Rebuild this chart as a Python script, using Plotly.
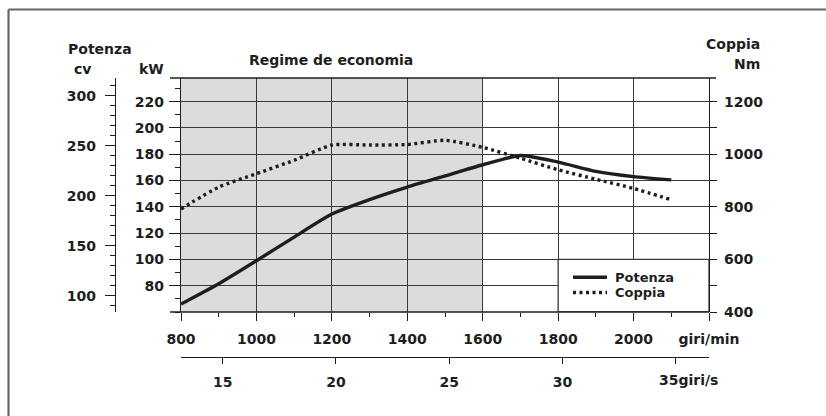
import plotly.graph_objects as go

# ---------------- data ----------------
rpm = [800, 900, 1000, 1100, 1200, 1300, 1400, 1500, 1600, 1700, 1800, 1900, 2000, 2100]
potenza_kw = [66, 81.5, 99, 117, 134.5, 145.5, 155, 163.5, 172, 179, 174, 167, 163, 160.5]
coppia_nm = [792, 875, 926, 977, 1035, 1035, 1037, 1053, 1026, 985, 941, 905, 870, 827]

rpm_ticks = [800, 1000, 1200, 1400, 1600, 1800, 2000, 2200]
rpm_labels = ["800", "1000", "1200", "1400", "1600", "1800", "2000", "giri/min"]
kw_ticks = [80, 100, 120, 140, 160, 180, 200, 220]
cv_ticks = [100, 150, 200, 250, 300]
nm_ticks = [400, 600, 800, 1000, 1200]
gs_ticks = [15, 20, 25, 30, 35]
gs_labels = ["15", "20", "25", "30", ""]
economy_rpm = [800, 1600]
legend_names = ["Potenza", "Coppia"]

# ---------------- geometry helpers (pixels -> paper) ----------------
W, H = 826, 416
L, R, T, B = 100, 720, 78, 357
def px(x):
    return (x - L) / (R - L)
def py(y):
    return (B - y) / (B - T)

FONT = "DejaVu Sans"
INK = "#1e1e1e"
GRID = "#3a3a3a"
tf = dict(family=FONT, size=14, color=INK, weight="bold")

x_dom = [px(181), px(709)]
y_dom = [py(312), 1.0]

fig = go.Figure()
fig.add_trace(go.Scatter(x=rpm, y=potenza_kw, mode="lines", name=legend_names[0],
                         line=dict(color=INK, width=3.4, shape="spline", smoothing=0.6),
                         xaxis="x", yaxis="y", showlegend=False, hoverinfo="skip"))
fig.add_trace(go.Scatter(x=rpm, y=coppia_nm, mode="lines", name=legend_names[1],
                         line=dict(color=INK, width=3.4, dash="3px,3.5px", shape="spline", smoothing=0.6),
                         xaxis="x", yaxis="y3", showlegend=False, hoverinfo="skip"))
# dummy traces so the auxiliary axes are drawn
fig.add_trace(go.Scatter(x=[None], y=[None], xaxis="x2", yaxis="y", showlegend=False, hoverinfo="skip"))
fig.add_trace(go.Scatter(x=[None], y=[None], xaxis="x", yaxis="y2", showlegend=False, hoverinfo="skip"))

fig.update_layout(
    width=W, height=H,
    margin=dict(l=L, r=W - R, t=T, b=H - B, pad=0, autoexpand=False),
    paper_bgcolor="white", plot_bgcolor="rgba(0,0,0,0)",
    showlegend=False,
    xaxis=dict(domain=x_dom, range=[800, 2200], anchor="y", automargin=False,
               tickmode="array", tickvals=rpm_ticks, ticktext=rpm_labels,
               ticks="outside", ticklen=8, tickwidth=1.3, tickcolor=INK,
               showgrid=True, gridcolor=GRID, gridwidth=1.3,
               showline=False, zeroline=False, tickfont=tf, ticklabelstandoff=6,
               minor=dict(dtick=100, tick0=800, ticks="outside", ticklen=4, tickwidth=1.2,
                          tickcolor=INK, showgrid=False)),
    xaxis2=dict(overlaying="x", anchor="free", position=0, side="bottom", automargin=False,
                range=[13.16, 36.47], tickmode="array", tickvals=gs_ticks, ticktext=gs_labels,
                ticks="outside", ticklen=6, tickwidth=1.2, tickcolor=INK,
                showline=True, linecolor=INK, linewidth=1.4, showgrid=False, zeroline=False,
                tickfont=tf, ticklabelstandoff=6),
    yaxis=dict(domain=y_dom, range=[60, 238], anchor="x", automargin=False,
               tickmode="array", tickvals=kw_ticks,
               ticks="outside", ticklen=11, tickwidth=1.3, tickcolor=INK,
               showgrid=True, gridcolor=GRID, gridwidth=1.3,
               showline=True, linecolor=INK, linewidth=1.4, zeroline=False,
               tickfont=tf, ticklabelstandoff=2,
               minor=dict(dtick=10, tick0=60, ticks="outside", ticklen=5, tickwidth=1.2,
                          tickcolor=INK, showgrid=False)),
    yaxis2=dict(overlaying="y", anchor="free", position=px(115), side="left", automargin=False,
                range=[83.7, 317.7], tickmode="array", tickvals=cv_ticks,
                ticks="outside", ticklen=10, tickwidth=1.3, tickcolor=INK,
                showline=True, linecolor=INK, linewidth=1.4, showgrid=False, zeroline=False,
                tickfont=tf, ticklabelstandoff=6,
                minor=dict(dtick=10, tick0=0, ticks="outside", ticklen=5, tickwidth=1.2,
                           tickcolor=INK, showgrid=False)),
    yaxis3=dict(overlaying="y", anchor="x", side="right", automargin=False,
                range=[400, 1290], tickmode="array", tickvals=nm_ticks,
                ticks="outside", ticklen=7, tickwidth=1.3, tickcolor=INK,
                showline=True, linecolor=INK, linewidth=1.4, showgrid=False, zeroline=False,
                tickfont=tf, ticklabelstandoff=4,
                minor=dict(dtick=100, tick0=400, ticks="outside", ticklen=7, tickwidth=1.2,
                           tickcolor=INK, showgrid=False)),
)

shapes = []
# economy band
shapes.append(dict(type="rect", xref="x", yref="y", x0=economy_rpm[0], x1=economy_rpm[1],
                   y0=60, y1=238, fillcolor="#dcdcdf", line=dict(width=0), layer="below"))
# white legend box (covers grid), bordered like the grid
shapes.append(dict(type="rect", xref="x", yref="y", x0=1800, x1=2200, y0=60, y1=100,
                   fillcolor="white", line=dict(color=GRID, width=1.3), layer="between"))
# top and bottom frame lines
shapes.append(dict(type="line", xref="paper", yref="paper", x0=px(170), x1=px(716),
                   y0=py(78), y1=py(78), line=dict(color=INK, width=1.4)))
shapes.append(dict(type="line", xref="paper", yref="paper", x0=px(170), x1=px(709),
                   y0=py(312), y1=py(312), line=dict(color=INK, width=1.4)))
# outer frame (left & top)
shapes.append(dict(type="line", xref="paper", yref="paper", x0=px(8.5), x1=px(8.5),
                   y0=py(9.5), y1=py(420), line=dict(color="#666666", width=2.2)))
shapes.append(dict(type="line", xref="paper", yref="paper", x0=px(8.5), x1=px(830),
                   y0=py(9.5), y1=py(9.5), line=dict(color="#666666", width=2.2)))
# legend samples
shapes.append(dict(type="line", xref="paper", yref="paper", x0=px(573), x1=px(607),
                   y0=py(277.3), y1=py(277.3), line=dict(color=INK, width=3.4)))
shapes.append(dict(type="line", xref="paper", yref="paper", x0=px(573), x1=px(607),
                   y0=py(292.5), y1=py(292.5), line=dict(color=INK, width=3.4, dash="3px,3.5px")))
fig.update_layout(shapes=shapes)

ann = []
def text(x, y, s, xanchor="center", size=14):
    ann.append(dict(x=px(x), y=py(y), xref="paper", yref="paper", text=s, showarrow=False,
                    xanchor=xanchor, yanchor="middle",
                    font=dict(family=FONT, size=size, color=INK, weight="bold")))
text(100.4, 49, "Potenza")
text(82, 69, "cv")
text(151.5, 69, "kW")
text(762, 44, "Coppia", xanchor="right")
text(762, 64, "Nm", xanchor="right")
text(331, 60, "Regime de economia")
text(657, 380, "35giri/s", xanchor="left")
text(613, 277.3, legend_names[0], xanchor="left", size=13)
text(613, 292.5, legend_names[1], xanchor="left", size=13)
fig.update_layout(annotations=ann)

fig.write_html("out.html", config={"displayModeBar": False},
               post_script="document.body.style.margin='0px';document.body.style.padding='0px';"
                           "document.documentElement.style.overflow='hidden';")
